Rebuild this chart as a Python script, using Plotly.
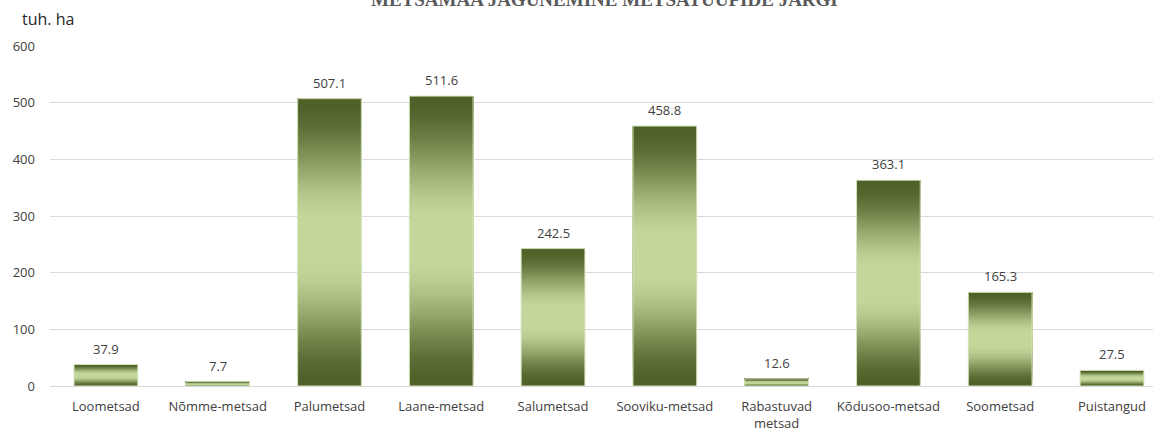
import plotly.graph_objects as go

categories = ["Loometsad", "Nõmme-metsad", "Palumetsad", "Laane-metsad", "Salumetsad",
              "Sooviku-metsad", "Rabastuvad<br>metsad", "Kõdusoo-metsad", "Soometsad", "Puistangud"]
values = [37.9, 7.7, 507.1, 511.6, 242.5, 458.8, 12.6, 363.1, 165.3, 27.5]
y_ticks = [0, 100, 200, 300, 400, 500, 600]

title_text = "METSAMAA JAGUNEMINE METSATÜÜPIDE JÄRGI"
unit_text = "tuh. ha"

DARK = (79, 97, 40)
LIGHT = (196, 215, 155)
N = 120
BAR_W = 0.57


def smooth(t):
    return t * t * (3 - 2 * t)


def grad_color(f):
    # f: 0 at bottom, 1 at top; dark at both ends, light in the middle
    d = abs(f - 0.5) / 0.5  # 0 middle, 1 edges
    d = max(0.0, (d - 0.12) / 0.88)
    t = 1 - smooth(d)
    c = [round(DARK[i] + (LIGHT[i] - DARK[i]) * t) for i in range(3)]
    return f"rgb({c[0]},{c[1]},{c[2]})"


fig = go.Figure()

for k in range(N):
    base = [v * k / N for v in values]
    height = [v * (N - k) / N for v in values]
    fig.add_trace(go.Bar(
        x=categories, y=height, base=base, width=BAR_W,
        marker=dict(color=grad_color((k + 0.5) / N), line=dict(width=0)),
        showlegend=False, hoverinfo="skip",
    ))

fig.add_trace(go.Bar(
    x=categories, y=values, width=BAR_W,
    marker=dict(color="rgba(0,0,0,0)", line=dict(color="#d7e4bd", width=1)),
    showlegend=False,
))

annotations = []
for c, v in zip(categories, values):
    annotations.append(dict(
        x=c, y=v, xref="x", yref="y", text=f"{v:.1f}", showarrow=False,
        yanchor="bottom", yshift=5,
        font=dict(family="Open Sans", size=13, color="#404040"),
    ))

annotations.append(dict(
    x=0.503, y=1.136, xref="paper", yref="paper", text=f"<b>{title_text}</b>",
    showarrow=False, xanchor="center", yanchor="middle",
    font=dict(family="Liberation Serif", size=19, color="#595959"),
))
annotations.append(dict(
    x=-0.027, y=1.079, xref="paper", yref="paper", text=unit_text,
    showarrow=False, xanchor="left", yanchor="middle",
    font=dict(family="Open Sans", size=16, color="#262626"),
))

fig.update_layout(
    width=1162, height=432,
    margin=dict(l=50, r=9, t=46, b=46, autoexpand=False),
    barmode="overlay",
    plot_bgcolor="white", paper_bgcolor="white",
    annotations=annotations,
    font=dict(family="Open Sans", size=13, color="#595959"),
)
fig.update_xaxes(
    type="category", range=[-0.5, 9.367], automargin=False,
    showline=True, linecolor="#d9d9d9", linewidth=1,
    showgrid=False, ticks="", ticklabelstandoff=8,
    tickfont=dict(family="Open Sans", size=13, color="#404040"),
)
fig.update_yaxes(
    range=[0, 600], tickvals=y_ticks, automargin=False,
    showgrid=True, gridcolor="#d9d9d9", gridwidth=1,
    zeroline=False, showline=False, ticks="", ticklabelstandoff=14,
    tickfont=dict(family="Open Sans", size=13, color="#404040"),
)

fig.write_html("out.html", config={"displayModeBar": False},
               post_script="document.body.style.margin='0px';")
